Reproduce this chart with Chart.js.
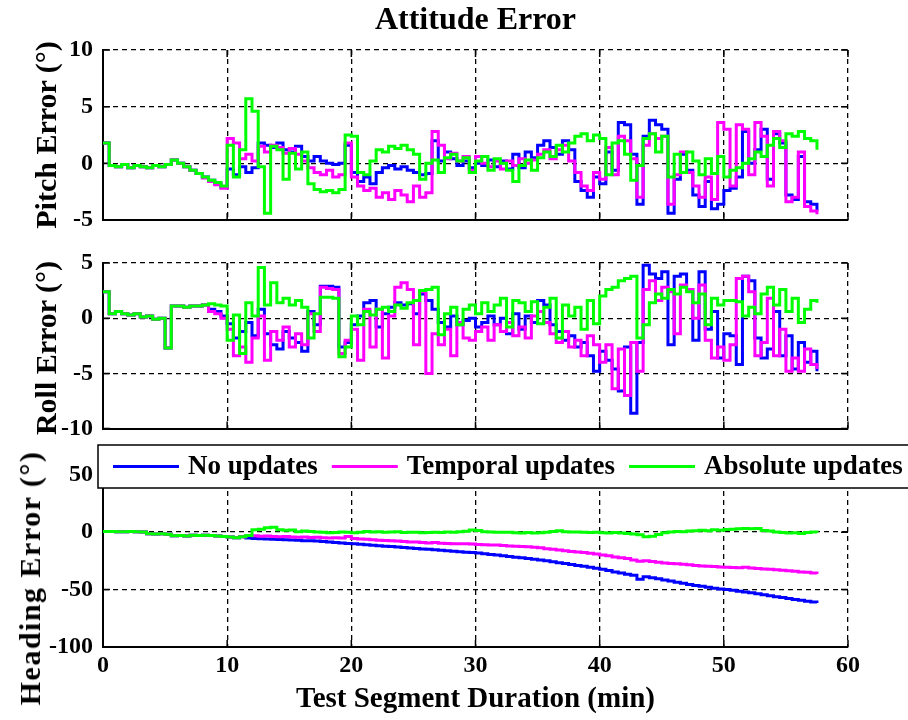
<!DOCTYPE html>
<html>
<head>
<meta charset="utf-8">
<title>Attitude Error</title>
<script src="https://cdn.jsdelivr.net/npm/chart.js@4.4.1/dist/chart.umd.min.js"></script>
<style>
  body { margin: 0; background: #fff; }
  #wrap { position: relative; width: 908px; height: 720px; overflow: hidden; background: #fff; }
  .panel { position: absolute; left: 0; width: 908px; }
  .txt { position: absolute; font-family: "Liberation Serif", "Times New Roman", serif; font-weight: bold; color: #000; white-space: nowrap; }
  .title { top: 0; left: 103px; width: 745px; text-align: center; font-size: 32px; line-height: 36px; }
  .xlabel { top: 680px; left: 103px; width: 745px; text-align: center; font-size: 29px; line-height: 34px; }
  .ylabel { font-size: 30px; line-height: 32px; transform: translate(-50%, -50%) rotate(-90deg); }
</style>
</head>
<body>
<div id="wrap">
  <div class="panel" style="top:0;height:245px"><canvas id="pitchChart"></canvas></div>
  <div class="panel" style="top:235px;height:218px"><canvas id="rollChart"></canvas></div>
  <div class="panel" style="top:420px;height:300px"><canvas id="headingChart"></canvas></div>

  <div class="txt title">Attitude Error</div>
  <div class="txt ylabel" style="left:46px;top:135px">Pitch Error (°)</div>
  <div class="txt ylabel" style="left:46px;top:348px">Roll Error (°)</div>
  <div class="txt ylabel" style="left:30px;top:578px;letter-spacing:1.5px">Heading Error (°)</div>
  <div class="txt xlabel">Test Segment Duration (min)</div>
</div>

<script>
// time axis in minutes
const timeMin = [0,0.5,1,1.5,2,2.5,3,3.5,4,4.5,5,5.5,6,6.5,7,7.5,8,8.5,9,9.5,
  10,10.5,11,11.5,12,12.5,13,13.5,14,14.5,15,15.5,16,16.5,17,17.5,18,18.5,19,19.5,
  20,20.5,21,21.5,22,22.5,23,23.5,24,24.5,25,25.5,26,26.5,27,27.5,28,28.5,29,29.5,
  30,30.5,31,31.5,32,32.5,33,33.5,34,34.5,35,35.5,36,36.5,37,37.5,38,38.5,39,39.5,
  40,40.5,41,41.5,42,42.5,43,43.5,44,44.5,45,45.5,46,46.5,47,47.5,48,48.5,49,49.5,
  50,50.5,51,51.5,52,52.5,53,53.5,54,54.5,55,55.5,56,56.5,57,57.5];

const seriesNames = ["No updates", "Temporal updates", "Absolute updates"];
const seriesColors = ["#0000ff", "#ff00ff", "#00ff00"];

const xTicks = [0, 10, 20, 30, 40, 50, 60];
const pitchTicks = [-5, 0, 5, 10];
const rollTicks = [-10, -5, 0, 5];
const headingTicks = [-100, -50, 0, 50];

// pitch error (deg)
const pitchNone = [1.8,-0.2,-0.3,-0.1,-0.4,-0.2,-0.3,-0.4,-0.2,-0.3,
  -0.1,0.3,0.0,-0.3,-0.6,-0.9,-1.2,-1.5,-1.8,-2.1,
  -0.5,-1.0,-0.3,-0.8,-0.4,1.8,1.6,1.4,1.8,1.2,
  1.0,1.5,0.6,0.2,0.6,0.2,0.0,-0.1,0.0,1.6,
  -0.8,-1.6,-1.2,-1.8,-0.8,-0.4,-0.2,-0.5,-0.3,-0.6,
  -0.8,-1.0,-0.9,2.0,0.2,1.0,0.4,-0.2,0.2,-0.4,
  0.0,-0.2,0.3,-0.3,0.2,-0.5,0.8,-0.4,1.0,0.5,
  1.6,2.0,1.4,0.8,2.0,1.2,-1.6,-2.4,-3.0,-1.2,
  -1.8,1.0,-0.6,3.6,3.4,0.8,-3.6,2.4,3.8,3.4,
  3.0,-4.4,-1.4,0.8,-0.6,-2.8,-3.8,-1.6,-4.0,-3.6,
  -2.4,-2.2,-1.2,2.8,0.0,1.2,3.0,-1.4,2.6,1.8,
  -2.8,-3.2,0.6,-3.4,-3.6,-4.2];
const pitchTemporal = [1.8,-0.2,-0.3,-0.1,-0.4,-0.2,-0.3,-0.4,-0.2,-0.3,
  -0.1,0.3,0.0,-0.3,-0.6,-0.9,-1.3,-1.6,-1.9,-2.2,
  2.2,1.8,0.4,0.8,0.2,1.5,1.0,1.6,1.4,0.9,
  1.3,0.8,0.2,-0.4,-0.8,-1.0,-0.6,-1.2,-1.0,1.8,
  -1.2,-2.0,-2.4,-2.2,-3.0,-2.6,-3.2,-2.4,-2.8,-3.4,
  -2.0,-3.0,-2.6,2.8,1.6,0.4,0.9,0.2,0.6,-0.6,
  0.6,0.0,-0.3,0.2,-0.5,0.2,-0.2,0.4,0.0,0.3,
  0.8,1.2,0.4,1.2,1.6,0.2,-0.8,-2.0,-2.4,-0.8,
  -1.4,1.4,-1.0,2.4,2.0,0.4,-3.0,1.6,2.6,2.2,
  2.4,-3.6,-1.0,1.0,-0.8,-2.0,-3.0,-1.2,-3.2,3.6,
  3.0,-2.0,3.4,3.0,-1.0,3.6,2.4,-2.0,2.8,2.0,
  -3.4,-3.0,1.0,-3.8,-4.2,-4.5];
const pitchAbsolute = [1.8,-0.2,-0.3,-0.1,-0.4,-0.2,-0.3,-0.4,-0.2,-0.3,
  -0.1,0.3,0.0,-0.3,-0.6,-0.9,-1.2,-1.5,-1.7,-2.0,
  1.6,-1.2,1.2,5.7,4.6,-0.3,-4.4,1.5,1.2,-1.4,
  0.9,-0.5,1.0,-1.8,-2.3,-2.5,-2.4,-2.6,-2.3,2.5,
  2.4,-0.8,-1.0,0.2,1.2,1.0,1.5,1.3,1.6,1.2,
  0.8,-1.4,0.0,0.3,-0.8,0.5,0.8,0.2,0.5,-0.8,
  0.2,0.6,-0.6,0.4,0.0,-0.6,-1.6,-0.2,0.3,-0.6,
  0.5,1.0,0.6,1.6,1.0,1.8,2.4,2.6,2.0,2.5,
  2.2,-1.0,1.8,2.0,0.8,-1.5,-0.2,2.2,2.6,1.0,
  2.4,-1.2,0.8,-0.8,1.0,0.2,-1.0,0.4,-0.9,0.6,
  -1.2,-0.6,-0.4,0.0,0.4,1.0,0.6,1.6,2.2,1.4,
  2.6,2.4,2.8,2.2,2.0,1.2];

// roll error (deg)
const rollNone = [2.4,0.4,0.6,0.4,0.3,0.4,0.1,0.2,-0.1,0.0,
  -2.7,1.1,1.1,1.0,1.1,1.1,1.2,0.8,0.6,0.2,
  -0.5,-1.8,-1.2,-0.4,-1.6,0.8,-1.4,-2.4,-2.8,-1.2,
  -1.8,-2.2,-3.0,0.6,-0.6,2.9,2.9,2.8,-2.6,-2.2,
  -0.6,0.2,1.4,1.6,-0.8,0.4,1.0,1.4,1.2,1.3,
  0.4,2.2,1.6,0.8,-0.4,-0.8,0.2,-0.6,-0.2,0.0,
  -0.8,-0.4,0.2,-0.6,0.0,-1.4,0.4,-1.0,0.2,-0.4,
  1.6,1.2,-0.6,-1.2,-2.0,-1.6,-2.6,-2.2,-3.4,-4.8,
  -3.0,-3.8,-4.6,-6.6,-2.6,-8.6,-2.2,4.8,4.0,3.6,
  4.2,-2.4,3.8,4.0,2.6,-2.0,4.2,-1.0,0.6,-3.6,
  -1.4,-1.6,-4.2,3.8,3.4,-1.8,-3.6,-2.8,0.6,-3.4,
  -1.6,-4.6,-2.2,-4.0,-3.0,-4.8];
const rollTemporal = [2.4,0.4,0.6,0.4,0.3,0.4,0.1,0.2,-0.1,0.0,
  -2.7,1.1,1.1,1.0,1.1,1.1,1.2,0.6,0.4,0.0,
  -1.0,-3.4,-2.6,-4.0,-1.8,0.2,-3.8,-1.2,-2.0,-0.8,
  -2.6,-1.4,-2.4,0.4,-1.2,2.8,2.7,2.6,-3.2,-2.0,
  -1.0,-3.8,0.8,-2.6,0.8,-3.6,0.2,2.8,3.2,2.6,
  -2.4,2.4,-5.0,-1.4,-2.4,-1.0,-3.4,-0.4,-1.8,-2.0,
  -1.2,-0.8,-2.0,-0.6,-1.2,-0.4,-1.6,-0.8,-1.8,0.2,
  0.6,-0.4,-1.4,-2.2,-1.2,-2.6,-2.0,-3.4,-1.6,-2.4,
  -4.0,-2.4,-6.4,-2.8,-7.0,-2.2,-4.8,2.6,3.4,1.6,
  2.8,2.4,-1.4,3.0,2.6,0.0,3.0,-2.0,-3.6,-2.6,
  -3.8,-2.4,3.6,3.8,2.4,-3.4,-2.2,1.8,-3.4,-1.0,
  -4.8,-3.6,-4.8,-2.8,-4.2,-4.6];
const rollAbsolute = [2.4,0.4,0.6,0.4,0.3,0.4,0.1,0.2,-0.1,0.0,
  -2.7,1.1,1.1,1.0,1.1,1.1,1.2,1.3,1.2,1.1,
  -2.0,0.3,-3.2,1.4,0.2,4.6,1.2,3.2,1.4,1.8,
  1.2,1.6,1.0,-1.8,0.4,1.9,1.9,1.8,-3.5,-2.6,
  0.2,-0.6,0.6,0.3,0.8,1.0,0.6,1.2,0.9,1.4,
  1.6,2.5,2.6,2.8,-1.5,0.4,1.0,-0.6,0.8,1.2,
  0.4,1.4,0.6,1.2,1.8,-0.8,1.6,1.4,0.6,1.5,
  -0.5,1.0,1.8,-1.8,1.2,0.2,1.0,-1.0,1.6,-0.5,
  2.0,2.6,2.8,3.4,3.6,3.8,-1.8,-0.6,1.4,2.2,
  1.8,2.6,2.2,2.8,2.4,1.4,2.2,-0.6,1.8,1.2,
  1.6,1.6,1.5,0.2,1.0,0.4,2.2,2.8,1.2,2.6,
  0.6,1.8,-0.4,0.8,1.6,1.4];

// heading error (deg)
const headingNone = [0.5,0.5,0.3,0.4,0.5,0.3,0.2,-1.5,-1.6,-1.5,
  -1.8,-3.2,-3.0,-3.3,-2.8,-3.0,-2.6,-3.0,-3.4,-3.8,
  -4.2,-4.8,-4.0,-5.0,-5.6,-5.8,-6.0,-6.2,-6.4,-6.6,
  -6.8,-7.0,-7.4,-7.6,-7.8,-8.2,-8.6,-9.0,-9.4,-9.8,
  -10.2,-10.6,-11.0,-11.4,-11.8,-12.2,-12.6,-13.0,-13.4,-13.8,
  -14.2,-14.6,-15.0,-15.4,-15.8,-16.2,-16.6,-17.0,-17.4,-17.8,
  -18.2,-18.8,-19.4,-20.0,-20.6,-21.2,-21.8,-22.4,-23.0,-23.6,
  -24.2,-25.0,-25.8,-26.6,-27.4,-28.2,-29.0,-29.8,-30.6,-31.4,
  -32.2,-33.4,-34.6,-35.6,-36.6,-37.6,-41.0,-38.8,-39.6,-40.6,
  -41.6,-42.6,-43.6,-44.6,-45.6,-46.4,-47.2,-48.0,-48.8,-49.4,
  -50.0,-50.6,-51.4,-52.2,-52.8,-53.6,-54.6,-55.4,-56.2,-57.0,
  -57.8,-58.6,-59.4,-60.2,-60.8,-61.6];
const headingTemporal = [0.5,0.5,0.3,0.4,0.5,0.3,0.2,-1.5,-1.6,-1.5,
  -1.8,-3.2,-3.0,-3.3,-2.8,-3.0,-2.6,-3.0,-3.4,-3.8,
  -4.2,-4.8,-4.0,-3.0,-3.2,-3.6,-3.4,-3.8,-4.0,-3.8,
  -4.2,-4.4,-4.2,-4.6,-4.4,-4.8,-5.0,-4.8,-5.2,-3.8,
  -5.6,-6.0,-6.2,-6.6,-7.0,-7.2,-7.4,-7.8,-8.2,-8.6,
  -8.6,-9.0,-9.4,-9.0,-9.6,-9.8,-10.0,-10.2,-10.2,-10.4,
  -10.8,-11.0,-11.2,-11.2,-11.6,-12.0,-12.2,-12.6,-12.8,-13.2,
  -13.6,-14.4,-15.0,-15.6,-16.2,-16.8,-17.2,-17.8,-18.4,-19.0,
  -19.8,-20.6,-21.6,-22.4,-23.0,-24.2,-25.4,-25.0,-25.6,-26.2,
  -26.8,-27.2,-27.6,-28.0,-28.4,-29.0,-29.4,-29.6,-30.0,-30.4,
  -30.6,-30.8,-31.0,-30.6,-31.2,-31.6,-32.0,-32.4,-32.8,-33.2,
  -33.6,-34.0,-34.6,-35.0,-35.6,-36.4];
const headingAbsolute = [0.5,0.5,0.3,0.4,0.5,0.3,0.2,-1.5,-1.6,-1.5,
  -1.8,-3.2,-3.0,-3.3,-2.8,-3.0,-2.6,-3.0,-3.4,-3.8,
  -4.2,-4.8,-4.0,-3.0,2.0,2.6,3.8,4.2,2.0,1.6,
  1.8,0.4,1.0,0.6,0.2,0.0,-0.6,-0.4,0.2,-0.2,
  -0.6,0.0,0.6,0.2,0.4,-0.2,0.2,0.4,-0.4,0.0,
  0.0,-0.6,-0.4,0.0,-0.4,0.2,0.0,0.4,0.8,1.8,
  1.4,0.4,0.2,0.0,-0.2,-0.2,-0.6,-0.8,-0.4,-0.8,
  -0.6,-0.2,0.6,1.2,0.4,0.2,0.2,0.0,-0.4,-0.2,
  -0.6,-0.8,-0.4,-0.8,-1.2,-1.6,-2.2,-4.0,-3.6,-2.0,
  -0.6,0.2,0.6,0.4,1.0,1.2,1.6,1.2,2.0,1.6,
  2.4,2.6,3.0,3.2,3.0,3.2,1.4,1.0,0.2,-0.4,
  -0.8,-0.6,-1.2,-0.4,0.2,-0.6];

const tickFont = { family: "'Liberation Serif', 'Times New Roman', serif", size: 24, weight: "bold" };

// short solid tick marks on the inside of the box, like matlab axes
const innerTicks = {
    id: "innerTicks",
    beforeDatasetsDraw(chart) {
        const { ctx, chartArea: a, scales: { x, y } } = chart;
        ctx.save();
        ctx.strokeStyle = "#000";
        ctx.lineWidth = 1.5;
        ctx.beginPath();
        x.ticks.forEach((t) => {
            const px = x.getPixelForValue(t.value);
            ctx.moveTo(px, a.bottom); ctx.lineTo(px, a.bottom - 7);
            ctx.moveTo(px, a.top); ctx.lineTo(px, a.top + 7);
        });
        y.ticks.forEach((t) => {
            const py = y.getPixelForValue(t.value);
            ctx.moveTo(a.left, py); ctx.lineTo(a.left + 7, py);
            ctx.moveTo(a.right, py); ctx.lineTo(a.right - 7, py);
        });
        ctx.stroke();
        ctx.restore();
    },
};

// boxed horizontal legend across the top of the heading panel
const boxLegend = {
    id: "boxLegend",
    afterDraw(chart) {
        const { ctx } = chart;
        const top = 25, h = 43;
        ctx.save();
        ctx.fillStyle = "#fff";
        ctx.fillRect(98, top, 830, h);
        ctx.strokeStyle = "#000";
        ctx.lineWidth = 1.5;
        ctx.strokeRect(98, top, 830, h);
        ctx.font = "bold 27px 'Liberation Serif', 'Times New Roman', serif";
        ctx.textBaseline = "middle";
        const cy = top + h / 2;
        let x = 113;
        chart.data.datasets.forEach((ds) => {
            ctx.strokeStyle = ds.borderColor;
            ctx.lineWidth = 3;
            ctx.beginPath();
            ctx.moveTo(x, cy);
            ctx.lineTo(x + 66, cy);
            ctx.stroke();
            x += 75;
            ctx.fillStyle = "#000";
            ctx.fillText(ds.label, x, cy + 1);
            x += ctx.measureText(ds.label).width + 14;
        });
        ctx.restore();
    },
};

function makePanel(canvasId, values, opts) {
    const datasets = values.map((vals, i) => ({
        label: seriesNames[i],
        data: vals.map((v, j) => ({ x: timeMin[j], y: v })),
        borderColor: seriesColors[i],
        backgroundColor: seriesColors[i],
        borderWidth: opts.lineWidth,
        pointRadius: 0,
        stepped: opts.stepped,
        tension: 0,
        order: 3 - i,
    }));

    return new Chart(document.getElementById(canvasId), {
        type: "line",
        data: { datasets },
        options: {
            responsive: true,
            maintainAspectRatio: false,
            animation: false,
            layout: { padding: { top: opts.padTop, right: 60, bottom: 0, left: 0 } },
            plugins: { legend: { display: false }, tooltip: { enabled: false } },
            scales: {
                x: {
                    type: "linear",
                    min: 0,
                    max: 60,
                    afterBuildTicks: (s) => { s.ticks = xTicks.map((v) => ({ value: v })); },
                    afterFit: (s) => { s.height = opts.xHeight; },
                    grid: { color: "#000", lineWidth: 1.3, drawTicks: false },
                    border: { display: true, color: "#000", width: 2, dash: [5, 4] },
                    ticks: { display: opts.showX, color: "#000", font: tickFont, padding: 4, maxRotation: 0 },
                },
                y: {
                    min: opts.yMin,
                    max: opts.yMax,
                    afterBuildTicks: (s) => { s.ticks = opts.yTicks.map((v) => ({ value: v })); },
                    afterFit: (s) => { s.width = 103; },
                    grid: { color: "#000", lineWidth: 1.3, drawTicks: false },
                    border: { display: true, color: "#000", width: 2, dash: [5, 4] },
                    ticks: { color: "#000", font: tickFont, padding: 10 },
                },
            },
        },
        plugins: opts.legend ? [innerTicks, boxLegend] : [innerTicks],
    });
}

makePanel("pitchChart", [pitchNone, pitchTemporal, pitchAbsolute], {
    yMin: -5, yMax: 10, yTicks: pitchTicks, padTop: 50, xHeight: 25,
    showX: false, stepped: true, lineWidth: 3,
});
makePanel("rollChart", [rollNone, rollTemporal, rollAbsolute], {
    yMin: -10, yMax: 5, yTicks: rollTicks, padTop: 28, xHeight: 20,
    showX: false, stepped: true, lineWidth: 3,
});
makePanel("headingChart", [headingNone, headingTemporal, headingAbsolute], {
    yMin: -100, yMax: 75, yTicks: headingTicks, padTop: 26, xHeight: 73,
    showX: true, stepped: true, lineWidth: 3, legend: true,
});
</script>
</body>
</html>
